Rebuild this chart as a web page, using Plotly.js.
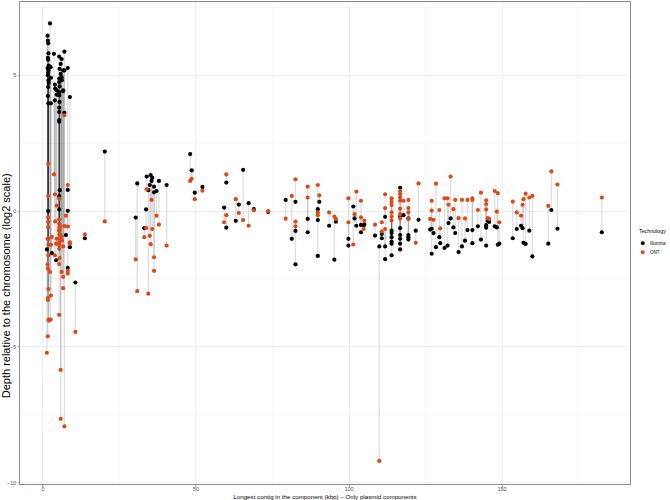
<!DOCTYPE html>
<html>
<head>
<meta charset="utf-8">
<script src="https://cdn.plot.ly/plotly-3.0.1.min.js"></script>
<style>
  html, body { margin: 0; padding: 0; background: #fff; }
  #plot { width: 670px; height: 500px; }
</style>
</head>
<body>
<div id="plot"></div>
<script>
// one entry per plasmid component: longest contig (kbp), Illumina depth, ONT depth (log2 rel. chromosome)
const contigKbp = [
  1.5, 1.6, 1.7, 1.8, 1.6, 1.7, 1.9, 1.5, 1.8, 1.7, 1.6, 1.8, 1.9, 1.7, 1.6, 1.8, 1.7, 1.3,
  2.3, 2.5, 2.6, 2.6, 2.9, 3.6, 3.9, 4.0, 3.9, 4.5, 4.5, 4.3,
  5.3, 5.8, 5.4, 5.8, 5.3, 5.3, 5.4, 5.3, 5.3, 5.4, 5.3, 5.3, 5.3, 5.3, 5.5, 5.3, 5.3,
  6.1, 6.1, 6.2, 6.6, 6.6, 6.6, 7.0, 7.0, 7.0,
  8.1, 8.8, 8.1, 8.1, 8.1, 8.8, 7.5,
  10.6, 13.7, 20.2,
  30.3, 30.8, 33.1, 33.9, 33.7, 34.4, 34.9, 35.2, 35.5, 35.7, 36.3, 36.3, 37.1, 37.9, 40.4,
  48.1, 48.6, 49.6, 52.1, 59.2, 59.9, 59.9, 63.0, 64.0, 65.4, 67.2, 68.9, 73.6,
  79.3, 81.3, 82.5, 82.5, 82.5, 86.5, 86.5, 89.8, 90.3, 89.8, 89.8, 93.5, 95.2, 95.7,
  99.8, 99.8, 101.4, 101.8, 102.4, 103.9, 103.9, 105.0, 104.8, 108.5, 109.9, 110.7, 110.7,
  111.8, 111.8, 111.8, 113.9, 113.9, 113.9, 113.9, 113.9, 113.9,
  116.7, 116.7, 116.7, 116.7, 116.7, 116.7, 116.7, 117.8, 119.4, 119.4, 119.4, 119.4,
  121.8, 122.7, 126.5, 127.0, 127.0, 127.6, 128.4, 129.5, 129.8, 131.2, 132.2, 132.5,
  133.2, 134.1, 134.7, 135.8, 136.9, 137.9, 138.7, 140.3, 140.3, 142.1, 143.1,
  144.8, 144.8, 144.8, 145.3, 145.8, 147.6, 148.3, 148.6, 149.1,
  153.5, 154.8, 156.2, 156.7, 157.0, 157.7, 158.9, 159.9, 165.1, 166.1, 168.1, 182.6
];
const illuminaDepth = [
  6.46, 6.28, 6.18, 5.81, 5.64, 5.57, 5.36, 5.27, 5.18, 5.09, 5.0, 4.82, 4.72, 4.57, 4.24, 3.97, 0.0, -1.41,
  6.91, 5.3, 4.91, 3.97, -1.55, 5.79, 4.66, 4.51, 4.08, 4.45, 4.29, -1.81,
  5.69, 5.42, 5.24, 5.05, 4.88, 4.75, 4.59, 4.38, 4.26, 4.02, 3.81, 3.65, 3.35, 3.29, 0.77, 0.55, 0.06,
  5.6, 4.93, 4.82, 4.45, 4.42, 5.18, 5.87, 5.18, 3.62,
  5.27, 4.2, 0.78, 0.01, -2.09, -1.33, -0.88,
  -2.63, -1.0, 2.19,
  -0.24, 1.02, -0.63, 1.27, 0.06, 0.77, 0.96, 1.33, 1.11, 1.23, 0.9, 0.69, 0.74, 1.11, 0.96,
  2.1, 1.5, 0.68, 0.89, 0.13, 1.05, -0.61, -0.36, 0.24, 1.52, 0.29, 0.07, -0.03,
  0.41, -1.02, 0.34, -0.73, -1.96, -0.29, -0.78, -0.33, 0.34, 0.07, -1.65, -0.54, -1.79, -0.39,
  -1.02, -1.27, 0.17, -0.27, -0.54, -0.51, -0.78, -0.49, -0.53, -0.9, -1.3, -0.84, -1.0,
  -0.21, -1.3, -1.77, -0.72, -0.81, -0.96, -1.12, -1.2, -1.63,
  0.86, -0.2, -0.63, -0.88, -1.02, -1.2, -1.41, -0.15, -0.27, -0.88, -0.96, -1.05,
  -0.72, -0.32, -0.68, -1.57, -0.65, -0.81, -1.33, -0.96, -1.18, -1.36, -1.27, -0.44,
  -0.27, -0.6, -0.81, -1.51, -1.3, -1.09, -0.7, -0.7, -1.18, -0.56, -1.05,
  -0.61, -1.27, -0.52, -0.36, -0.4, -0.56, -0.6, -1.24, -1.2,
  -1.0, -0.66, -0.54, -0.63, -1.17, -1.21, -0.72, -1.67, -1.2, 0.04, -0.65, -0.78
];
const ontDepth = [
  -1.02, -2.12, -0.6, -1.63, -3.2, -0.23, -4.03, -1.97, -2.87, 0.56, -3.27, -1.24, -4.0, 1.74, -4.61, -1.02, -0.4, -5.22,
  -2.24, -4.0, -3.11, -1.24, -0.95, 1.35, -1.63, -0.38, 0.62, 0.2, -1.02, -1.2,
  -0.47, -7.65, -0.6, -5.85, -0.72, -1.39, -1.73, -3.82, 0.46, -0.85, -1.0, -1.15, -0.3, -1.95, -0.55, -1.25, -0.7,
  -0.93, -2.24, -1.08, -2.84, -2.42, -1.3, -7.93, -0.55, 3.53,
  -2.3, -1.2, 0.96, -0.57, -2.2, -1.15, -0.17,
  -4.45, -0.86, -0.38,
  -1.78, -2.95, -0.96, 0.8, -0.62, -3.04, -0.91, -1.22, 0.41, -0.66, -1.7, -2.2, -0.17, -0.5, -1.27,
  1.11, 1.19, 0.44, 0.75, -0.41, 1.35, -0.15, 0.44, -0.07, -0.33, -0.54, 0.03, 0.0,
  -0.28, 0.56, 1.17, -0.39, -0.56, 0.9, 0.5, 0.96, 0.58, -0.05, -0.15, -0.05, -0.2, -0.29,
  0.47, -0.41, -1.23, -0.11, 0.72, 0.38, -0.23, -0.35, -0.66, -0.5, -9.2, -0.41, -0.75,
  0.62, 0.11, -0.66, 0.47, 0.34, 0.22, -0.05, -0.2, -0.35,
  0.72, 0.62, 0.5, 0.38, 0.09, -0.11, -0.27, 0.38, 0.41, 0.11, -0.05, -0.29,
  -1.17, 1.02, -0.29, 0.38, 0.02, -0.32, 1.01, 0.04, -0.64, 0.47, 0.47, 0.24,
  1.27, 0.07, 0.41, -0.26, 0.41, -0.27, 0.41, 0.47, 0.41, 0.04, 0.68,
  0.06, 0.4, 0.26, -0.26, -0.29, 0.74, -0.02, 0.66, -0.41,
  0.35, -0.05, -0.17, 0.23, 0.44, 0.64, 0.5, 0.56, 0.19, 1.46, 0.98, 0.5
];
const techNames = ['Illumina', 'ONT'];
const techColors = ['#000000', '#D84C1C'];

const FONT = 'Liberation Sans, Arial, sans-serif';

// grey segment joining the two technologies for each component
const data = contigKbp.map((x, i) => ({
  x: [x, x],
  y: [illuminaDepth[i], ontDepth[i]],
  mode: 'lines',
  type: 'scatter',
  line: {color: 'rgba(0,0,0,0.13)', width: 1.3},
  hoverinfo: 'skip',
  showlegend: false
}));

data.push({
  x: contigKbp, y: illuminaDepth, name: techNames[0],
  mode: 'markers', type: 'scatter',
  marker: {color: techColors[0], size: 4.2},
  showlegend: false
});
data.push({
  x: contigKbp, y: ontDepth, name: techNames[1],
  mode: 'markers', type: 'scatter',
  marker: {color: techColors[1], size: 4.2},
  showlegend: false
});

const axisCommon = {
  showgrid: true,
  gridcolor: '#ebebeb',
  gridwidth: 0.8,
  zeroline: false,
  showline: true,
  mirror: true,
  linecolor: '#8c8c8c',
  linewidth: 1,
  ticks: 'outside',
  ticklen: 1.5,
  tickwidth: 0.8,
  tickcolor: '#8c8c8c',
  tickfont: {family: FONT, size: 5.5, color: '#4d4d4d'},
  automargin: false
};

// manual legend, placed in the right margin like ggplot's guide
const legendAnn = [
  {x: 1.012, y: 0.525, xanchor: 'left', text: 'Technology', font: {size: 5.3, color: '#000'}},
  {x: 1.0205, y: 0.5, xanchor: 'center', text: '●', font: {size: 9, color: techColors[0]}},
  {x: 1.0205, y: 0.481, xanchor: 'center', text: '●', font: {size: 9, color: techColors[1]}},
  {x: 1.030, y: 0.5, xanchor: 'left', text: techNames[0], font: {size: 4.5, color: '#000'}},
  {x: 1.030, y: 0.481, xanchor: 'left', text: techNames[1], font: {size: 4.5, color: '#000'}}
].map(a => ({
  ...a, xref: 'paper', yref: 'paper', yanchor: 'middle',
  showarrow: false, font: {family: FONT, ...a.font}
}));

// the reference title sits lower than the panel centre: pad its upper end with no-break
// spaces, closed by a zero-width space so the padding is not trimmed away
const yTitle = 'Depth relative to the chromosome (log2 scale)' + '\u00a0'.repeat(28) + '\u200b';

const layout = {
  width: 670,
  height: 500,
  margin: {l: 20, r: 40, t: 2, b: 16},
  paper_bgcolor: '#fff',
  plot_bgcolor: '#fff',
  font: {family: FONT},
  xaxis: {
    ...axisCommon,
    range: [-7.5, 191.8],
    tick0: 0,
    dtick: 50,
    ticklabelstandoff: -2,
    minor: {dtick: 25, tick0: 0, showgrid: true, gridcolor: '#f2f2f2', gridwidth: 0.5},
    title: {text: 'Longest contig in the component (kbp) \u2013 Only plasmid components',
            font: {family: FONT, size: 6.2, color: '#000'}}
  },
  yaxis: {
    ...axisCommon,
    range: [-10.05, 7.7],
    tick0: 0,
    dtick: 5,
    minor: {dtick: 2.5, tick0: 0, showgrid: true, gridcolor: '#f2f2f2', gridwidth: 0.5},
    title: {text: yTitle, font: {family: FONT, size: 11, color: '#000'}}
  },
  annotations: legendAnn,
  showlegend: false
};

Plotly.newPlot('plot', data, layout, {displayModeBar: false, staticPlot: true});
</script>
</body>
</html>
